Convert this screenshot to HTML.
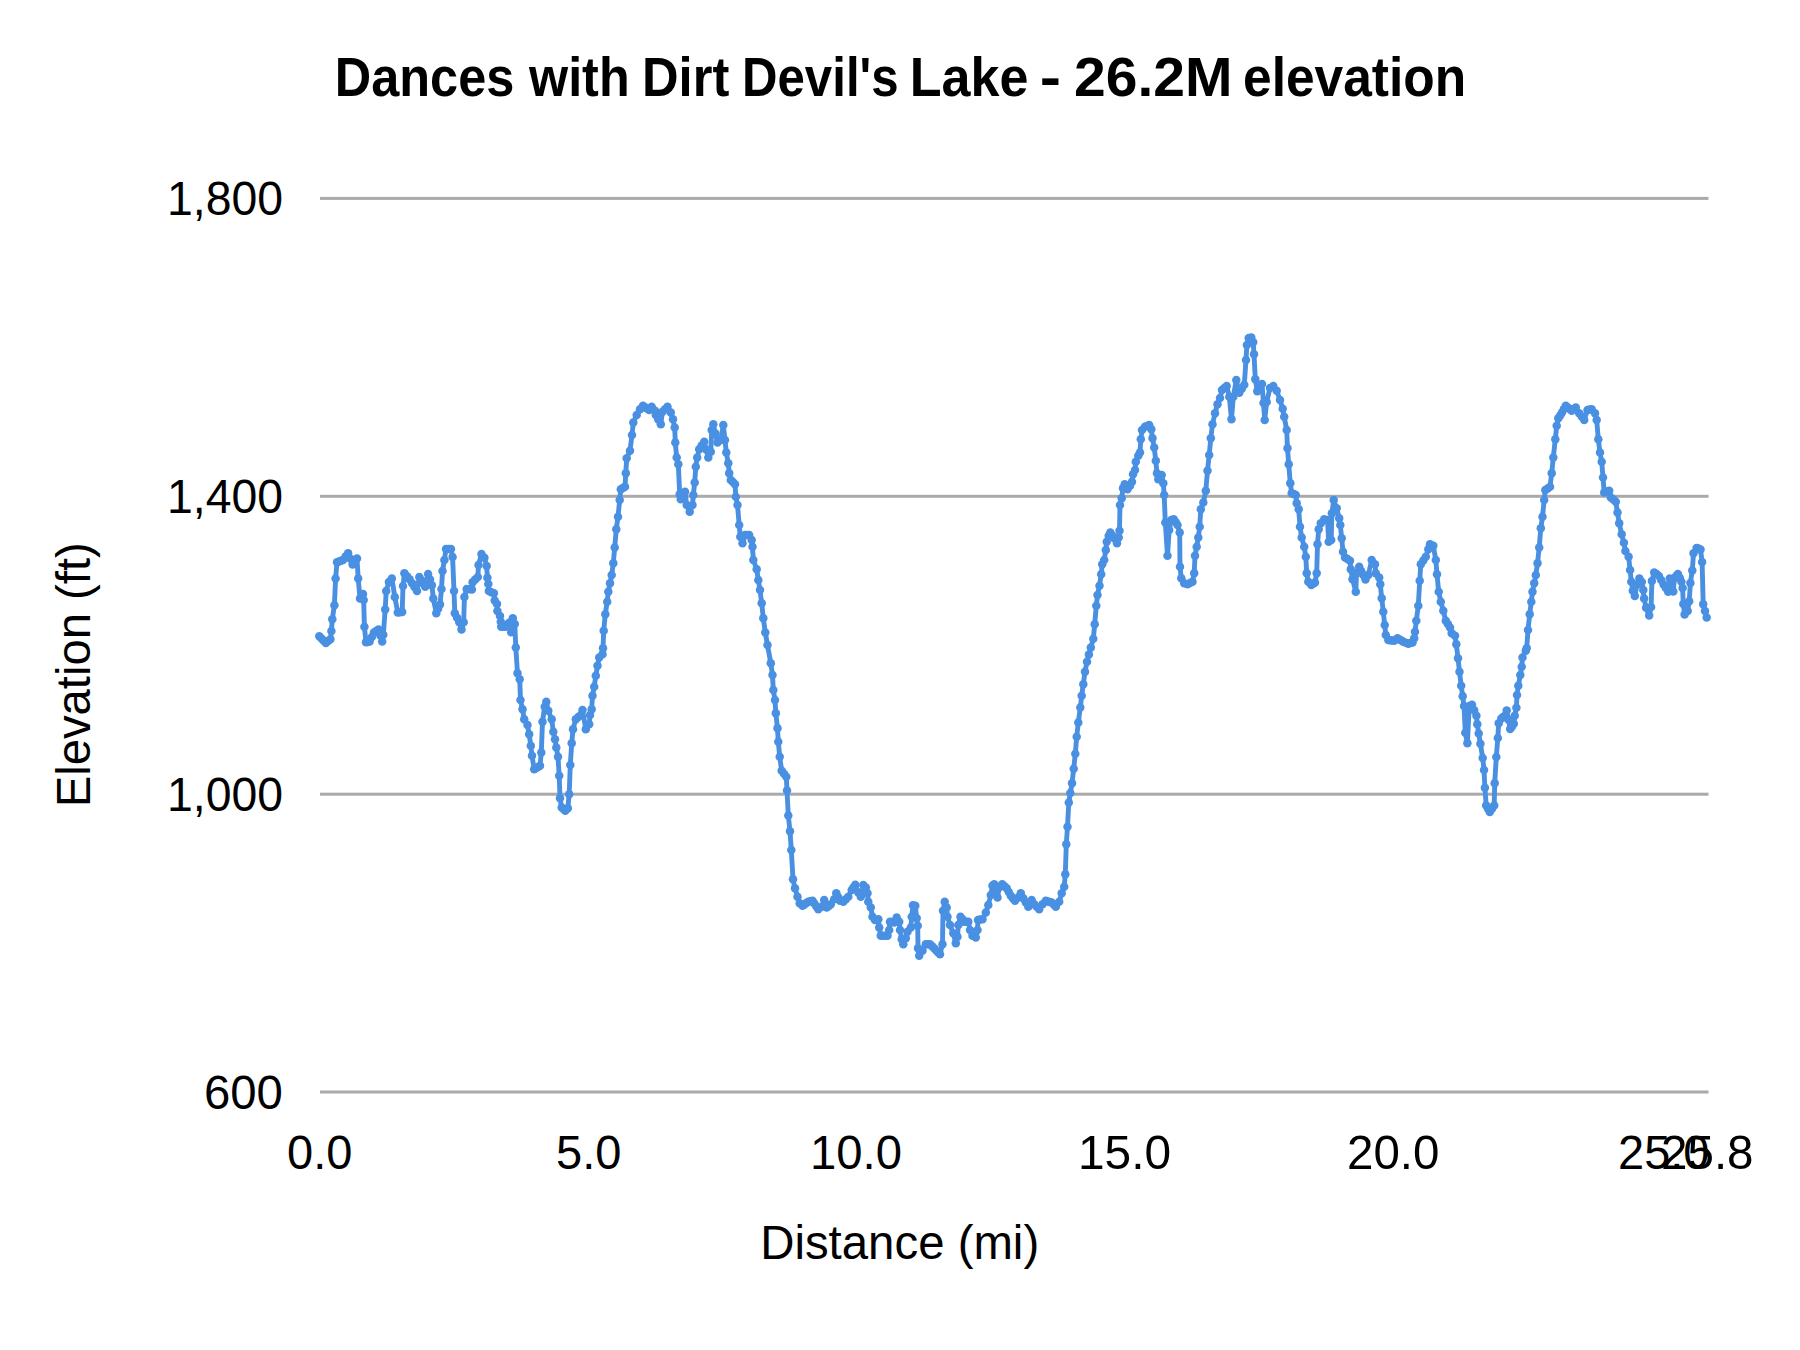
<!DOCTYPE html>
<html lang="en"><head><meta charset="utf-8"><title>Dances with Dirt Devil's Lake - 26.2M elevation</title>
<style>
html,body{margin:0;padding:0;background:#fff;}
body{width:1800px;height:1350px;overflow:hidden;}
svg{display:block;}
</style></head><body>
<svg width="1800" height="1350" viewBox="0 0 1800 1350">
<rect width="1800" height="1350" fill="#fff"/>
<text y="96" font-size="55.5" font-weight="bold" font-family="'Liberation Sans', sans-serif" fill="#000"><tspan x="334.8" textLength="179.5" lengthAdjust="spacingAndGlyphs">Dances</tspan> <tspan x="529.0" textLength="100.63" lengthAdjust="spacingAndGlyphs">with</tspan> <tspan x="642.0" textLength="87.33" lengthAdjust="spacingAndGlyphs">Dirt</tspan> <tspan x="742.0" textLength="156.6" lengthAdjust="spacingAndGlyphs">Devil's</tspan> <tspan x="909.8" textLength="118.71" lengthAdjust="spacingAndGlyphs">Lake</tspan> <tspan x="1039.8" textLength="21.24" lengthAdjust="spacingAndGlyphs">-</tspan> <tspan x="1074.0" textLength="158.53" lengthAdjust="spacingAndGlyphs">26.2M</tspan> <tspan x="1243.0" textLength="223.24" lengthAdjust="spacingAndGlyphs">elevation</tspan></text>
<rect x="320" y="196.9" width="1388.5" height="3" fill="#aaaaaa"/><rect x="320" y="494.8" width="1388.5" height="3" fill="#aaaaaa"/><rect x="320" y="792.7" width="1388.5" height="3" fill="#aaaaaa"/><rect x="320" y="1090.5" width="1388.5" height="3" fill="#aaaaaa"/>
<text x="167.0" y="215.0" font-size="48.5" font-family="'Liberation Sans', sans-serif" fill="#000" textLength="116.03" lengthAdjust="spacingAndGlyphs">1,800</text><text x="167.0" y="512.9" font-size="48.5" font-family="'Liberation Sans', sans-serif" fill="#000" textLength="116.03" lengthAdjust="spacingAndGlyphs">1,400</text><text x="167.0" y="810.8" font-size="48.5" font-family="'Liberation Sans', sans-serif" fill="#000" textLength="116.03" lengthAdjust="spacingAndGlyphs">1,000</text><text x="204.0" y="1108.6" font-size="48.5" font-family="'Liberation Sans', sans-serif" fill="#000" textLength="78.92" lengthAdjust="spacingAndGlyphs">600</text>
<text x="287.0" y="1168.9" font-size="48.5" font-family="'Liberation Sans', sans-serif" fill="#000" textLength="65.37" lengthAdjust="spacingAndGlyphs">0.0</text><text x="556.0" y="1168.9" font-size="48.5" font-family="'Liberation Sans', sans-serif" fill="#000" textLength="65.44" lengthAdjust="spacingAndGlyphs">5.0</text><text x="810.0" y="1168.9" font-size="48.5" font-family="'Liberation Sans', sans-serif" fill="#000" textLength="92.04" lengthAdjust="spacingAndGlyphs">10.0</text><text x="1078.0" y="1168.9" font-size="48.5" font-family="'Liberation Sans', sans-serif" fill="#000" textLength="93.09" lengthAdjust="spacingAndGlyphs">15.0</text><text x="1347.0" y="1168.9" font-size="48.5" font-family="'Liberation Sans', sans-serif" fill="#000" textLength="92.5" lengthAdjust="spacingAndGlyphs">20.0</text><text x="1618.0" y="1168.9" font-size="48.5" font-family="'Liberation Sans', sans-serif" fill="#000" textLength="91.45" lengthAdjust="spacingAndGlyphs">25.0</text><text x="1661.0" y="1168.9" font-size="48.5" font-family="'Liberation Sans', sans-serif" fill="#000" textLength="92.55" lengthAdjust="spacingAndGlyphs">25.8</text>
<text x="760.2" y="1258.9" font-size="48.5" font-family="'Liberation Sans', sans-serif" fill="#000" textLength="278.99" lengthAdjust="spacingAndGlyphs">Distance (mi)</text>
<text transform="translate(90 807.30) rotate(-90)" x="0" y="0" font-size="48.5" font-family="'Liberation Sans', sans-serif" fill="#000" textLength="265.03" lengthAdjust="spacingAndGlyphs">Elevation (ft)</text>
<path d="M319.3 636.3 L325.9 643.0 L330.4 639.3 L331.4 631.0 L332.3 619.3 L334.4 605.2 L335.6 578.5 L337.0 562.2 L343.0 560.0 L348.1 553.3 L352.6 564.4 L357.0 558.5 L358.2 578.5 L360.0 598.5 L363.0 594.0 L363.7 600.0 L364.4 626.7 L366.0 642.2 L369.6 641.5 L374.0 632.6 L378.5 629.6 L382.2 641.5 L383.3 634.8 L385.2 609.6 L386.2 591.0 L388.9 582.0 L391.9 578.5 L394.8 597.0 L397.8 612.6 L402.2 611.9 L403.0 586.0 L404.4 573.3 L409.6 579.3 L417.0 591.0 L419.3 577.0 L425.2 586.7 L428.1 574.0 L431.9 585.2 L433.3 598.5 L436.3 613.3 L440.0 604.4 L441.5 589.0 L442.5 571.0 L444.4 560.0 L446.0 549.0 L451.0 549.0 L452.6 557.0 L454.0 591.0 L454.8 613.3 L459.3 622.2 L461.5 629.6 L463.7 622.2 L464.4 597.0 L466.7 589.0 L471.9 589.6 L472.6 582.2 L477.8 577.0 L478.5 565.0 L481.5 554.0 L484.4 557.8 L486.7 566.0 L487.4 577.8 L488.3 583.9 L488.9 591.1 L493.9 593.3 L494.7 600.6 L497.0 603.9 L497.4 611.1 L500.0 616.1 L500.8 621.7 L501.2 626.7 L505.6 626.7 L509.2 622.8 L511.2 632.2 L512.8 618.3 L514.8 624.0 L515.8 647.5 L517.5 673.3 L519.7 679.2 L520.5 700.0 L522.5 709.2 L524.2 719.2 L527.5 725.0 L529.2 734.2 L530.8 745.8 L532.0 755.8 L534.2 769.2 L540.0 765.8 L541.3 752.5 L542.5 721.7 L544.7 706.7 L546.3 701.7 L548.3 710.8 L551.7 719.2 L553.3 731.7 L555.0 739.2 L556.3 747.5 L558.0 756.7 L559.2 775.8 L560.0 798.3 L561.7 807.5 L565.3 810.8 L567.8 808.3 L569.2 794.2 L570.3 765.0 L571.7 743.3 L573.0 729.2 L575.8 719.2 L580.8 715.0 L582.5 710.0 L585.8 729.2 L589.2 724.2 L590.0 715.0 L591.7 709.2 L592.5 695.8 L594.2 686.7 L595.8 675.8 L597.5 665.8 L599.2 657.5 L602.5 654.2 L603.0 648.3 L603.7 630.8 L605.3 614.2 L607.2 601.7 L608.3 591.7 L610.0 583.3 L611.7 575.0 L613.3 563.3 L614.7 547.5 L616.3 529.2 L618.0 516.7 L619.7 500.0 L620.8 489.2 L625.0 486.7 L625.8 473.3 L626.7 458.3 L630.0 450.8 L632.0 435.0 L633.3 422.5 L636.7 415.0 L640.0 409.2 L643.0 405.8 L649.2 410.0 L651.7 406.7 L655.0 410.8 L655.8 415.0 L660.8 424.2 L662.5 411.7 L667.5 406.7 L670.8 412.5 L673.0 419.2 L674.7 427.5 L675.3 442.5 L676.7 457.5 L678.3 464.2 L679.7 494.2 L680.8 499.2 L685.0 491.7 L686.7 505.0 L689.7 511.7 L692.5 505.0 L693.3 495.0 L694.7 482.5 L695.8 466.7 L697.2 457.5 L699.2 449.2 L704.2 441.7 L708.3 457.5 L710.8 451.7 L711.7 430.0 L713.3 424.2 L717.5 442.5 L720.8 440.0 L723.3 425.0 L725.0 440.0 L726.3 452.5 L728.3 463.3 L729.2 473.3 L730.8 480.0 L735.0 484.2 L735.8 496.7 L737.5 505.0 L739.2 525.0 L740.3 536.7 L742.5 543.3 L745.0 535.0 L749.2 535.0 L751.7 540.0 L752.5 546.7 L753.3 560.0 L756.7 569.2 L758.3 580.0 L760.0 590.0 L761.7 603.3 L763.3 618.3 L765.3 632.5 L767.5 645.0 L770.8 663.3 L772.5 675.0 L773.3 690.0 L775.0 700.0 L775.8 713.3 L777.5 728.3 L778.3 741.7 L779.7 756.7 L781.7 770.8 L786.3 776.7 L787.0 790.5 L788.3 815.5 L790.0 831.3 L791.3 850.0 L793.0 879.2 L795.0 888.3 L797.5 896.7 L799.7 903.3 L802.5 905.8 L808.3 901.7 L812.5 900.8 L818.3 909.2 L821.7 906.7 L824.2 900.0 L826.7 907.5 L830.8 904.2 L834.2 899.2 L836.3 893.3 L840.0 900.8 L843.3 901.7 L848.3 896.7 L851.7 890.0 L855.3 884.7 L858.3 892.5 L860.8 896.7 L863.3 885.0 L865.8 887.5 L867.5 893.3 L868.3 901.7 L870.8 907.5 L872.5 916.7 L875.0 920.0 L878.3 919.2 L879.2 927.5 L880.8 935.8 L887.5 935.8 L889.2 930.0 L890.0 921.7 L894.2 922.5 L896.7 917.5 L899.2 921.7 L900.0 930.0 L901.7 939.2 L903.3 944.2 L905.8 938.3 L907.5 931.7 L910.8 927.5 L911.7 916.7 L913.0 905.3 L915.3 905.8 L916.7 918.3 L917.7 925.8 L918.0 948.3 L919.2 955.8 L922.5 950.8 L925.8 944.2 L930.0 944.2 L934.2 948.3 L940.0 954.2 L942.5 944.2 L943.0 910.8 L944.7 901.7 L946.7 907.5 L947.5 916.7 L950.0 925.0 L953.3 933.3 L955.8 943.3 L957.5 936.7 L958.3 925.0 L960.5 916.7 L964.2 921.7 L968.3 921.7 L970.0 930.0 L972.5 935.8 L975.8 937.5 L977.5 930.0 L978.0 920.0 L982.5 919.2 L985.8 912.5 L988.3 905.0 L990.8 895.0 L992.5 885.8 L994.2 884.2 L997.5 897.5 L999.2 887.5 L1002.2 884.2 L1006.7 888.3 L1010.8 895.8 L1015.0 900.8 L1018.3 897.5 L1020.8 893.3 L1023.3 898.3 L1028.3 906.7 L1031.7 900.0 L1034.2 904.2 L1039.2 909.2 L1042.5 904.2 L1045.8 900.8 L1051.7 902.5 L1055.8 906.7 L1059.2 901.7 L1061.7 893.3 L1064.2 886.7 L1065.3 874.2 L1066.3 844.2 L1067.5 826.7 L1068.8 802.5 L1070.3 793.0 L1072.0 783.3 L1073.7 768.7 L1075.3 753.7 L1076.7 736.7 L1078.3 722.5 L1080.3 707.5 L1081.7 695.8 L1083.3 684.2 L1085.0 671.7 L1087.0 661.7 L1090.8 647.5 L1093.3 638.7 L1094.7 624.2 L1096.3 605.8 L1097.5 595.0 L1099.5 585.8 L1101.2 574.2 L1102.2 564.2 L1104.2 560.0 L1105.8 550.0 L1106.7 541.7 L1108.7 535.8 L1110.3 532.5 L1114.2 538.3 L1117.0 543.3 L1118.7 537.5 L1119.5 530.8 L1120.0 505.0 L1121.7 498.3 L1123.0 488.3 L1124.7 484.2 L1127.5 489.2 L1130.0 485.8 L1132.0 481.7 L1133.0 474.2 L1135.0 470.0 L1135.8 461.7 L1138.3 455.8 L1140.0 452.5 L1140.8 439.2 L1142.0 430.0 L1145.0 426.7 L1149.2 425.0 L1151.3 429.2 L1152.5 438.3 L1154.2 447.5 L1155.8 460.8 L1157.0 473.3 L1158.3 479.2 L1161.7 475.0 L1163.3 483.3 L1164.2 495.0 L1165.3 522.5 L1167.5 555.8 L1169.2 530.0 L1171.3 520.0 L1173.7 519.2 L1177.5 525.0 L1179.7 532.5 L1180.0 566.7 L1181.3 578.3 L1184.2 583.3 L1187.5 584.2 L1192.5 581.7 L1194.2 573.3 L1195.0 555.8 L1196.7 546.7 L1198.3 537.5 L1199.7 526.7 L1200.8 509.2 L1203.3 502.5 L1205.8 490.8 L1207.5 470.8 L1209.2 455.0 L1210.8 438.3 L1212.5 424.2 L1215.0 413.3 L1217.5 404.2 L1220.0 398.0 L1222.0 390.0 L1226.7 386.0 L1229.3 396.7 L1231.5 419.2 L1233.3 396.7 L1236.3 380.0 L1239.3 392.7 L1244.3 384.7 L1246.0 360.0 L1246.9 345.0 L1248.7 338.0 L1251.3 337.6 L1253.2 342.3 L1254.0 354.3 L1255.3 379.3 L1257.3 391.3 L1262.0 384.0 L1263.5 403.0 L1264.7 420.0 L1266.7 402.0 L1270.0 388.0 L1273.3 386.0 L1276.7 390.7 L1280.0 400.0 L1282.7 408.7 L1284.2 416.7 L1286.7 430.0 L1287.5 448.3 L1288.7 464.2 L1290.3 483.3 L1291.7 493.3 L1295.8 495.0 L1296.7 503.3 L1298.7 509.2 L1300.0 526.7 L1301.7 537.5 L1304.2 546.7 L1305.8 556.7 L1306.7 573.3 L1308.3 581.7 L1311.3 585.0 L1315.0 582.5 L1316.7 573.3 L1317.5 544.2 L1318.7 529.2 L1320.8 523.3 L1324.2 519.2 L1327.5 520.0 L1328.7 541.7 L1331.2 540.0 L1331.9 513.3 L1333.7 500.0 L1336.7 508.3 L1339.2 518.3 L1340.3 525.0 L1341.7 538.3 L1343.0 551.7 L1345.0 557.5 L1350.0 560.8 L1350.8 569.2 L1352.5 579.2 L1355.8 591.7 L1356.5 573.3 L1359.2 566.7 L1363.3 575.0 L1365.5 579.6 L1368.3 575.0 L1371.7 560.0 L1375.0 564.2 L1375.8 573.3 L1379.2 577.5 L1380.3 584.2 L1381.7 598.3 L1383.3 611.7 L1384.7 625.0 L1385.8 635.0 L1388.3 640.0 L1394.2 640.8 L1397.5 638.3 L1403.3 641.7 L1408.3 643.7 L1412.5 642.5 L1414.2 638.3 L1415.0 631.7 L1416.3 620.8 L1418.3 605.8 L1419.7 580.8 L1420.8 564.2 L1425.8 556.7 L1428.3 549.2 L1430.0 544.2 L1433.3 545.8 L1435.8 560.0 L1437.0 574.2 L1438.7 591.7 L1440.8 601.7 L1443.3 610.8 L1445.8 620.8 L1450.0 627.5 L1451.7 633.3 L1455.0 635.8 L1456.3 644.2 L1458.0 658.3 L1459.5 671.7 L1461.2 685.8 L1462.7 696.2 L1464.0 706.0 L1465.3 732.7 L1467.4 743.3 L1469.3 706.0 L1472.0 704.7 L1476.4 715.8 L1477.3 724.2 L1478.7 733.6 L1480.4 743.8 L1482.7 758.0 L1484.0 770.0 L1484.9 787.8 L1486.2 805.6 L1489.8 812.0 L1494.2 805.6 L1494.7 783.3 L1496.3 757.1 L1497.8 738.0 L1498.7 723.3 L1501.3 718.4 L1504.9 715.8 L1506.7 710.4 L1510.2 729.1 L1513.8 723.8 L1514.7 715.8 L1516.4 707.8 L1517.0 695.0 L1518.3 685.8 L1520.3 675.0 L1521.7 666.7 L1522.5 657.5 L1525.8 650.8 L1526.7 648.3 L1528.0 630.0 L1529.7 614.2 L1531.3 601.7 L1532.5 591.7 L1534.2 583.3 L1535.8 575.0 L1537.5 563.3 L1539.2 547.5 L1540.8 528.3 L1542.5 516.7 L1544.2 500.0 L1545.3 490.0 L1550.0 486.7 L1551.7 473.3 L1553.3 457.5 L1555.3 439.2 L1556.7 425.8 L1558.3 418.3 L1562.0 412.5 L1565.8 405.8 L1571.7 410.8 L1575.8 407.5 L1579.2 413.3 L1584.2 420.0 L1587.5 410.0 L1591.7 409.2 L1595.0 413.3 L1596.7 420.0 L1598.3 439.2 L1600.0 452.5 L1601.7 461.7 L1603.0 477.5 L1604.2 492.5 L1609.2 490.8 L1610.8 497.5 L1615.8 501.7 L1617.5 512.5 L1619.2 523.3 L1621.7 534.2 L1623.9 542.8 L1625.4 551.0 L1628.6 556.8 L1630.1 570.1 L1631.3 581.7 L1632.8 590.7 L1634.8 596.1 L1637.1 584.4 L1639.4 578.6 L1641.8 582.1 L1643.3 589.9 L1644.1 598.4 L1646.1 607.8 L1649.2 615.6 L1651.1 607.0 L1651.9 580.9 L1654.2 572.4 L1658.9 575.9 L1663.6 584.4 L1668.2 591.8 L1669.8 578.6 L1673.3 591.4 L1674.4 578.2 L1677.9 573.9 L1681.4 581.7 L1682.6 587.9 L1683.3 603.9 L1684.6 614.4 L1687.7 610.9 L1689.2 601.2 L1690.4 582.9 L1692.3 570.4 L1693.5 553.3 L1696.6 547.9 L1700.5 549.4 L1702.1 561.9 L1703.2 604.3 L1706.7 617.5" fill="none" stroke="#4a90e2" stroke-width="4.9" stroke-linejoin="round" stroke-linecap="round"/>
<g fill="#4a90e2"><circle cx="319.3" cy="636.3" r="4.25"/><circle cx="321.5" cy="638.5" r="4.25"/><circle cx="323.7" cy="640.8" r="4.25"/><circle cx="325.9" cy="643.0" r="4.25"/><circle cx="328.1" cy="641.1" r="4.25"/><circle cx="330.4" cy="639.3" r="4.25"/><circle cx="331.4" cy="631.0" r="4.25"/><circle cx="332.3" cy="619.3" r="4.25"/><circle cx="334.4" cy="605.2" r="4.25"/><circle cx="335.6" cy="578.5" r="4.25"/><circle cx="337.0" cy="562.2" r="4.25"/><circle cx="339.0" cy="561.5" r="4.25"/><circle cx="341.0" cy="560.7" r="4.25"/><circle cx="343.0" cy="560.0" r="4.25"/><circle cx="345.6" cy="556.6" r="4.25"/><circle cx="348.1" cy="553.3" r="4.25"/><circle cx="350.4" cy="558.8" r="4.25"/><circle cx="352.6" cy="564.4" r="4.25"/><circle cx="354.8" cy="561.5" r="4.25"/><circle cx="357.0" cy="558.5" r="4.25"/><circle cx="358.2" cy="578.5" r="4.25"/><circle cx="360.0" cy="598.5" r="4.25"/><circle cx="363.0" cy="594.0" r="4.25"/><circle cx="363.7" cy="600.0" r="4.25"/><circle cx="364.4" cy="626.7" r="4.25"/><circle cx="366.0" cy="642.2" r="4.25"/><circle cx="367.8" cy="641.9" r="4.25"/><circle cx="369.6" cy="641.5" r="4.25"/><circle cx="371.8" cy="637.0" r="4.25"/><circle cx="374.0" cy="632.6" r="4.25"/><circle cx="376.2" cy="631.1" r="4.25"/><circle cx="378.5" cy="629.6" r="4.25"/><circle cx="380.4" cy="635.5" r="4.25"/><circle cx="382.2" cy="641.5" r="4.25"/><circle cx="383.3" cy="634.8" r="4.25"/><circle cx="385.2" cy="609.6" r="4.25"/><circle cx="386.2" cy="591.0" r="4.25"/><circle cx="388.9" cy="582.0" r="4.25"/><circle cx="391.9" cy="578.5" r="4.25"/><circle cx="394.8" cy="597.0" r="4.25"/><circle cx="397.8" cy="612.6" r="4.25"/><circle cx="400.0" cy="612.2" r="4.25"/><circle cx="402.2" cy="611.9" r="4.25"/><circle cx="403.0" cy="586.0" r="4.25"/><circle cx="404.4" cy="573.3" r="4.25"/><circle cx="407.0" cy="576.3" r="4.25"/><circle cx="409.6" cy="579.3" r="4.25"/><circle cx="412.1" cy="583.2" r="4.25"/><circle cx="414.5" cy="587.1" r="4.25"/><circle cx="417.0" cy="591.0" r="4.25"/><circle cx="419.3" cy="577.0" r="4.25"/><circle cx="421.3" cy="580.2" r="4.25"/><circle cx="423.2" cy="583.5" r="4.25"/><circle cx="425.2" cy="586.7" r="4.25"/><circle cx="428.1" cy="574.0" r="4.25"/><circle cx="430.0" cy="579.6" r="4.25"/><circle cx="431.9" cy="585.2" r="4.25"/><circle cx="433.3" cy="598.5" r="4.25"/><circle cx="436.3" cy="613.3" r="4.25"/><circle cx="438.1" cy="608.8" r="4.25"/><circle cx="440.0" cy="604.4" r="4.25"/><circle cx="441.5" cy="589.0" r="4.25"/><circle cx="442.5" cy="571.0" r="4.25"/><circle cx="444.4" cy="560.0" r="4.25"/><circle cx="446.0" cy="549.0" r="4.25"/><circle cx="448.5" cy="549.0" r="4.25"/><circle cx="451.0" cy="549.0" r="4.25"/><circle cx="452.6" cy="557.0" r="4.25"/><circle cx="454.0" cy="591.0" r="4.25"/><circle cx="454.8" cy="613.3" r="4.25"/><circle cx="457.1" cy="617.8" r="4.25"/><circle cx="459.3" cy="622.2" r="4.25"/><circle cx="461.5" cy="629.6" r="4.25"/><circle cx="463.7" cy="622.2" r="4.25"/><circle cx="464.4" cy="597.0" r="4.25"/><circle cx="466.7" cy="589.0" r="4.25"/><circle cx="469.3" cy="589.3" r="4.25"/><circle cx="471.9" cy="589.6" r="4.25"/><circle cx="472.6" cy="582.2" r="4.25"/><circle cx="475.2" cy="579.6" r="4.25"/><circle cx="477.8" cy="577.0" r="4.25"/><circle cx="478.5" cy="565.0" r="4.25"/><circle cx="481.5" cy="554.0" r="4.25"/><circle cx="484.4" cy="557.8" r="4.25"/><circle cx="486.7" cy="566.0" r="4.25"/><circle cx="487.4" cy="577.8" r="4.25"/><circle cx="488.3" cy="583.9" r="4.25"/><circle cx="488.9" cy="591.1" r="4.25"/><circle cx="491.4" cy="592.2" r="4.25"/><circle cx="493.9" cy="593.3" r="4.25"/><circle cx="494.7" cy="600.6" r="4.25"/><circle cx="497.0" cy="603.9" r="4.25"/><circle cx="497.4" cy="611.1" r="4.25"/><circle cx="500.0" cy="616.1" r="4.25"/><circle cx="500.8" cy="621.7" r="4.25"/><circle cx="501.2" cy="626.7" r="4.25"/><circle cx="503.4" cy="626.7" r="4.25"/><circle cx="505.6" cy="626.7" r="4.25"/><circle cx="507.4" cy="624.8" r="4.25"/><circle cx="509.2" cy="622.8" r="4.25"/><circle cx="511.2" cy="632.2" r="4.25"/><circle cx="512.8" cy="618.3" r="4.25"/><circle cx="514.8" cy="624.0" r="4.25"/><circle cx="515.8" cy="647.5" r="4.25"/><circle cx="517.5" cy="673.3" r="4.25"/><circle cx="519.7" cy="679.2" r="4.25"/><circle cx="520.5" cy="700.0" r="4.25"/><circle cx="522.5" cy="709.2" r="4.25"/><circle cx="524.2" cy="719.2" r="4.25"/><circle cx="527.5" cy="725.0" r="4.25"/><circle cx="529.2" cy="734.2" r="4.25"/><circle cx="530.8" cy="745.8" r="4.25"/><circle cx="532.0" cy="755.8" r="4.25"/><circle cx="534.2" cy="769.2" r="4.25"/><circle cx="536.1" cy="768.1" r="4.25"/><circle cx="538.1" cy="766.9" r="4.25"/><circle cx="540.0" cy="765.8" r="4.25"/><circle cx="541.3" cy="752.5" r="4.25"/><circle cx="542.5" cy="721.7" r="4.25"/><circle cx="544.7" cy="706.7" r="4.25"/><circle cx="546.3" cy="701.7" r="4.25"/><circle cx="548.3" cy="710.8" r="4.25"/><circle cx="551.7" cy="719.2" r="4.25"/><circle cx="553.3" cy="731.7" r="4.25"/><circle cx="555.0" cy="739.2" r="4.25"/><circle cx="556.3" cy="747.5" r="4.25"/><circle cx="558.0" cy="756.7" r="4.25"/><circle cx="559.2" cy="775.8" r="4.25"/><circle cx="560.0" cy="798.3" r="4.25"/><circle cx="561.7" cy="807.5" r="4.25"/><circle cx="563.5" cy="809.1" r="4.25"/><circle cx="565.3" cy="810.8" r="4.25"/><circle cx="567.8" cy="808.3" r="4.25"/><circle cx="569.2" cy="794.2" r="4.25"/><circle cx="570.3" cy="765.0" r="4.25"/><circle cx="571.7" cy="743.3" r="4.25"/><circle cx="573.0" cy="729.2" r="4.25"/><circle cx="575.8" cy="719.2" r="4.25"/><circle cx="578.3" cy="717.1" r="4.25"/><circle cx="580.8" cy="715.0" r="4.25"/><circle cx="582.5" cy="710.0" r="4.25"/><circle cx="585.8" cy="729.2" r="4.25"/><circle cx="589.2" cy="724.2" r="4.25"/><circle cx="590.0" cy="715.0" r="4.25"/><circle cx="591.7" cy="709.2" r="4.25"/><circle cx="592.5" cy="695.8" r="4.25"/><circle cx="594.2" cy="686.7" r="4.25"/><circle cx="595.8" cy="675.8" r="4.25"/><circle cx="597.5" cy="665.8" r="4.25"/><circle cx="599.2" cy="657.5" r="4.25"/><circle cx="602.5" cy="654.2" r="4.25"/><circle cx="603.0" cy="648.3" r="4.25"/><circle cx="603.7" cy="630.8" r="4.25"/><circle cx="605.3" cy="614.2" r="4.25"/><circle cx="607.2" cy="601.7" r="4.25"/><circle cx="608.3" cy="591.7" r="4.25"/><circle cx="610.0" cy="583.3" r="4.25"/><circle cx="611.7" cy="575.0" r="4.25"/><circle cx="613.3" cy="563.3" r="4.25"/><circle cx="614.7" cy="547.5" r="4.25"/><circle cx="616.3" cy="529.2" r="4.25"/><circle cx="618.0" cy="516.7" r="4.25"/><circle cx="619.7" cy="500.0" r="4.25"/><circle cx="620.8" cy="489.2" r="4.25"/><circle cx="622.9" cy="487.9" r="4.25"/><circle cx="625.0" cy="486.7" r="4.25"/><circle cx="625.8" cy="473.3" r="4.25"/><circle cx="626.7" cy="458.3" r="4.25"/><circle cx="630.0" cy="450.8" r="4.25"/><circle cx="632.0" cy="435.0" r="4.25"/><circle cx="633.3" cy="422.5" r="4.25"/><circle cx="636.7" cy="415.0" r="4.25"/><circle cx="640.0" cy="409.2" r="4.25"/><circle cx="643.0" cy="405.8" r="4.25"/><circle cx="645.1" cy="407.2" r="4.25"/><circle cx="647.1" cy="408.6" r="4.25"/><circle cx="649.2" cy="410.0" r="4.25"/><circle cx="651.7" cy="406.7" r="4.25"/><circle cx="655.0" cy="410.8" r="4.25"/><circle cx="655.8" cy="415.0" r="4.25"/><circle cx="658.3" cy="419.6" r="4.25"/><circle cx="660.8" cy="424.2" r="4.25"/><circle cx="662.5" cy="411.7" r="4.25"/><circle cx="665.0" cy="409.2" r="4.25"/><circle cx="667.5" cy="406.7" r="4.25"/><circle cx="670.8" cy="412.5" r="4.25"/><circle cx="673.0" cy="419.2" r="4.25"/><circle cx="674.7" cy="427.5" r="4.25"/><circle cx="675.3" cy="442.5" r="4.25"/><circle cx="676.7" cy="457.5" r="4.25"/><circle cx="678.3" cy="464.2" r="4.25"/><circle cx="679.7" cy="494.2" r="4.25"/><circle cx="680.8" cy="499.2" r="4.25"/><circle cx="682.9" cy="495.4" r="4.25"/><circle cx="685.0" cy="491.7" r="4.25"/><circle cx="686.7" cy="505.0" r="4.25"/><circle cx="689.7" cy="511.7" r="4.25"/><circle cx="692.5" cy="505.0" r="4.25"/><circle cx="693.3" cy="495.0" r="4.25"/><circle cx="694.7" cy="482.5" r="4.25"/><circle cx="695.8" cy="466.7" r="4.25"/><circle cx="697.2" cy="457.5" r="4.25"/><circle cx="699.2" cy="449.2" r="4.25"/><circle cx="701.7" cy="445.4" r="4.25"/><circle cx="704.2" cy="441.7" r="4.25"/><circle cx="706.2" cy="449.6" r="4.25"/><circle cx="708.3" cy="457.5" r="4.25"/><circle cx="710.8" cy="451.7" r="4.25"/><circle cx="711.7" cy="430.0" r="4.25"/><circle cx="713.3" cy="424.2" r="4.25"/><circle cx="715.4" cy="433.4" r="4.25"/><circle cx="717.5" cy="442.5" r="4.25"/><circle cx="720.8" cy="440.0" r="4.25"/><circle cx="723.3" cy="425.0" r="4.25"/><circle cx="725.0" cy="440.0" r="4.25"/><circle cx="726.3" cy="452.5" r="4.25"/><circle cx="728.3" cy="463.3" r="4.25"/><circle cx="729.2" cy="473.3" r="4.25"/><circle cx="730.8" cy="480.0" r="4.25"/><circle cx="732.9" cy="482.1" r="4.25"/><circle cx="735.0" cy="484.2" r="4.25"/><circle cx="735.8" cy="496.7" r="4.25"/><circle cx="737.5" cy="505.0" r="4.25"/><circle cx="739.2" cy="525.0" r="4.25"/><circle cx="740.3" cy="536.7" r="4.25"/><circle cx="742.5" cy="543.3" r="4.25"/><circle cx="745.0" cy="535.0" r="4.25"/><circle cx="747.1" cy="535.0" r="4.25"/><circle cx="749.2" cy="535.0" r="4.25"/><circle cx="751.7" cy="540.0" r="4.25"/><circle cx="752.5" cy="546.7" r="4.25"/><circle cx="753.3" cy="560.0" r="4.25"/><circle cx="756.7" cy="569.2" r="4.25"/><circle cx="758.3" cy="580.0" r="4.25"/><circle cx="760.0" cy="590.0" r="4.25"/><circle cx="761.7" cy="603.3" r="4.25"/><circle cx="763.3" cy="618.3" r="4.25"/><circle cx="765.3" cy="632.5" r="4.25"/><circle cx="767.5" cy="645.0" r="4.25"/><circle cx="770.8" cy="663.3" r="4.25"/><circle cx="772.5" cy="675.0" r="4.25"/><circle cx="773.3" cy="690.0" r="4.25"/><circle cx="775.0" cy="700.0" r="4.25"/><circle cx="775.8" cy="713.3" r="4.25"/><circle cx="777.5" cy="728.3" r="4.25"/><circle cx="778.3" cy="741.7" r="4.25"/><circle cx="779.7" cy="756.7" r="4.25"/><circle cx="781.7" cy="770.8" r="4.25"/><circle cx="784.0" cy="773.8" r="4.25"/><circle cx="786.3" cy="776.7" r="4.25"/><circle cx="787.0" cy="790.5" r="4.25"/><circle cx="788.3" cy="815.5" r="4.25"/><circle cx="790.0" cy="831.3" r="4.25"/><circle cx="791.3" cy="850.0" r="4.25"/><circle cx="793.0" cy="879.2" r="4.25"/><circle cx="795.0" cy="888.3" r="4.25"/><circle cx="797.5" cy="896.7" r="4.25"/><circle cx="799.7" cy="903.3" r="4.25"/><circle cx="802.5" cy="905.8" r="4.25"/><circle cx="804.4" cy="904.4" r="4.25"/><circle cx="806.4" cy="903.1" r="4.25"/><circle cx="808.3" cy="901.7" r="4.25"/><circle cx="810.4" cy="901.2" r="4.25"/><circle cx="812.5" cy="900.8" r="4.25"/><circle cx="814.4" cy="903.6" r="4.25"/><circle cx="816.4" cy="906.4" r="4.25"/><circle cx="818.3" cy="909.2" r="4.25"/><circle cx="821.7" cy="906.7" r="4.25"/><circle cx="824.2" cy="900.0" r="4.25"/><circle cx="826.7" cy="907.5" r="4.25"/><circle cx="828.8" cy="905.9" r="4.25"/><circle cx="830.8" cy="904.2" r="4.25"/><circle cx="834.2" cy="899.2" r="4.25"/><circle cx="836.3" cy="893.3" r="4.25"/><circle cx="838.1" cy="897.0" r="4.25"/><circle cx="840.0" cy="900.8" r="4.25"/><circle cx="843.3" cy="901.7" r="4.25"/><circle cx="845.8" cy="899.2" r="4.25"/><circle cx="848.3" cy="896.7" r="4.25"/><circle cx="851.7" cy="890.0" r="4.25"/><circle cx="853.5" cy="887.4" r="4.25"/><circle cx="855.3" cy="884.7" r="4.25"/><circle cx="858.3" cy="892.5" r="4.25"/><circle cx="860.8" cy="896.7" r="4.25"/><circle cx="863.3" cy="885.0" r="4.25"/><circle cx="865.8" cy="887.5" r="4.25"/><circle cx="867.5" cy="893.3" r="4.25"/><circle cx="868.3" cy="901.7" r="4.25"/><circle cx="870.8" cy="907.5" r="4.25"/><circle cx="872.5" cy="916.7" r="4.25"/><circle cx="875.0" cy="920.0" r="4.25"/><circle cx="878.3" cy="919.2" r="4.25"/><circle cx="879.2" cy="927.5" r="4.25"/><circle cx="880.8" cy="935.8" r="4.25"/><circle cx="883.0" cy="935.8" r="4.25"/><circle cx="885.3" cy="935.8" r="4.25"/><circle cx="887.5" cy="935.8" r="4.25"/><circle cx="889.2" cy="930.0" r="4.25"/><circle cx="890.0" cy="921.7" r="4.25"/><circle cx="892.1" cy="922.1" r="4.25"/><circle cx="894.2" cy="922.5" r="4.25"/><circle cx="896.7" cy="917.5" r="4.25"/><circle cx="899.2" cy="921.7" r="4.25"/><circle cx="900.0" cy="930.0" r="4.25"/><circle cx="901.7" cy="939.2" r="4.25"/><circle cx="903.3" cy="944.2" r="4.25"/><circle cx="905.8" cy="938.3" r="4.25"/><circle cx="907.5" cy="931.7" r="4.25"/><circle cx="910.8" cy="927.5" r="4.25"/><circle cx="911.7" cy="916.7" r="4.25"/><circle cx="913.0" cy="905.3" r="4.25"/><circle cx="915.3" cy="905.8" r="4.25"/><circle cx="916.7" cy="918.3" r="4.25"/><circle cx="917.7" cy="925.8" r="4.25"/><circle cx="918.0" cy="948.3" r="4.25"/><circle cx="919.2" cy="955.8" r="4.25"/><circle cx="922.5" cy="950.8" r="4.25"/><circle cx="925.8" cy="944.2" r="4.25"/><circle cx="927.9" cy="944.2" r="4.25"/><circle cx="930.0" cy="944.2" r="4.25"/><circle cx="932.1" cy="946.2" r="4.25"/><circle cx="934.2" cy="948.3" r="4.25"/><circle cx="936.1" cy="950.3" r="4.25"/><circle cx="938.1" cy="952.2" r="4.25"/><circle cx="940.0" cy="954.2" r="4.25"/><circle cx="942.5" cy="944.2" r="4.25"/><circle cx="943.0" cy="910.8" r="4.25"/><circle cx="944.7" cy="901.7" r="4.25"/><circle cx="946.7" cy="907.5" r="4.25"/><circle cx="947.5" cy="916.7" r="4.25"/><circle cx="950.0" cy="925.0" r="4.25"/><circle cx="953.3" cy="933.3" r="4.25"/><circle cx="955.8" cy="943.3" r="4.25"/><circle cx="957.5" cy="936.7" r="4.25"/><circle cx="958.3" cy="925.0" r="4.25"/><circle cx="960.5" cy="916.7" r="4.25"/><circle cx="962.4" cy="919.2" r="4.25"/><circle cx="964.2" cy="921.7" r="4.25"/><circle cx="966.2" cy="921.7" r="4.25"/><circle cx="968.3" cy="921.7" r="4.25"/><circle cx="970.0" cy="930.0" r="4.25"/><circle cx="972.5" cy="935.8" r="4.25"/><circle cx="975.8" cy="937.5" r="4.25"/><circle cx="977.5" cy="930.0" r="4.25"/><circle cx="978.0" cy="920.0" r="4.25"/><circle cx="980.2" cy="919.6" r="4.25"/><circle cx="982.5" cy="919.2" r="4.25"/><circle cx="985.8" cy="912.5" r="4.25"/><circle cx="988.3" cy="905.0" r="4.25"/><circle cx="990.8" cy="895.0" r="4.25"/><circle cx="992.5" cy="885.8" r="4.25"/><circle cx="994.2" cy="884.2" r="4.25"/><circle cx="997.5" cy="897.5" r="4.25"/><circle cx="999.2" cy="887.5" r="4.25"/><circle cx="1002.2" cy="884.2" r="4.25"/><circle cx="1004.5" cy="886.2" r="4.25"/><circle cx="1006.7" cy="888.3" r="4.25"/><circle cx="1008.8" cy="892.0" r="4.25"/><circle cx="1010.8" cy="895.8" r="4.25"/><circle cx="1012.9" cy="898.3" r="4.25"/><circle cx="1015.0" cy="900.8" r="4.25"/><circle cx="1018.3" cy="897.5" r="4.25"/><circle cx="1020.8" cy="893.3" r="4.25"/><circle cx="1023.3" cy="898.3" r="4.25"/><circle cx="1025.8" cy="902.5" r="4.25"/><circle cx="1028.3" cy="906.7" r="4.25"/><circle cx="1031.7" cy="900.0" r="4.25"/><circle cx="1034.2" cy="904.2" r="4.25"/><circle cx="1036.7" cy="906.7" r="4.25"/><circle cx="1039.2" cy="909.2" r="4.25"/><circle cx="1042.5" cy="904.2" r="4.25"/><circle cx="1045.8" cy="900.8" r="4.25"/><circle cx="1047.8" cy="901.4" r="4.25"/><circle cx="1049.7" cy="901.9" r="4.25"/><circle cx="1051.7" cy="902.5" r="4.25"/><circle cx="1053.8" cy="904.6" r="4.25"/><circle cx="1055.8" cy="906.7" r="4.25"/><circle cx="1059.2" cy="901.7" r="4.25"/><circle cx="1061.7" cy="893.3" r="4.25"/><circle cx="1064.2" cy="886.7" r="4.25"/><circle cx="1065.3" cy="874.2" r="4.25"/><circle cx="1066.3" cy="844.2" r="4.25"/><circle cx="1067.5" cy="826.7" r="4.25"/><circle cx="1068.8" cy="802.5" r="4.25"/><circle cx="1070.3" cy="793.0" r="4.25"/><circle cx="1072.0" cy="783.3" r="4.25"/><circle cx="1073.7" cy="768.7" r="4.25"/><circle cx="1075.3" cy="753.7" r="4.25"/><circle cx="1076.7" cy="736.7" r="4.25"/><circle cx="1078.3" cy="722.5" r="4.25"/><circle cx="1080.3" cy="707.5" r="4.25"/><circle cx="1081.7" cy="695.8" r="4.25"/><circle cx="1083.3" cy="684.2" r="4.25"/><circle cx="1085.0" cy="671.7" r="4.25"/><circle cx="1087.0" cy="661.7" r="4.25"/><circle cx="1088.9" cy="654.6" r="4.25"/><circle cx="1090.8" cy="647.5" r="4.25"/><circle cx="1093.3" cy="638.7" r="4.25"/><circle cx="1094.7" cy="624.2" r="4.25"/><circle cx="1096.3" cy="605.8" r="4.25"/><circle cx="1097.5" cy="595.0" r="4.25"/><circle cx="1099.5" cy="585.8" r="4.25"/><circle cx="1101.2" cy="574.2" r="4.25"/><circle cx="1102.2" cy="564.2" r="4.25"/><circle cx="1104.2" cy="560.0" r="4.25"/><circle cx="1105.8" cy="550.0" r="4.25"/><circle cx="1106.7" cy="541.7" r="4.25"/><circle cx="1108.7" cy="535.8" r="4.25"/><circle cx="1110.3" cy="532.5" r="4.25"/><circle cx="1112.2" cy="535.4" r="4.25"/><circle cx="1114.2" cy="538.3" r="4.25"/><circle cx="1117.0" cy="543.3" r="4.25"/><circle cx="1118.7" cy="537.5" r="4.25"/><circle cx="1119.5" cy="530.8" r="4.25"/><circle cx="1120.0" cy="505.0" r="4.25"/><circle cx="1121.7" cy="498.3" r="4.25"/><circle cx="1123.0" cy="488.3" r="4.25"/><circle cx="1124.7" cy="484.2" r="4.25"/><circle cx="1127.5" cy="489.2" r="4.25"/><circle cx="1130.0" cy="485.8" r="4.25"/><circle cx="1132.0" cy="481.7" r="4.25"/><circle cx="1133.0" cy="474.2" r="4.25"/><circle cx="1135.0" cy="470.0" r="4.25"/><circle cx="1135.8" cy="461.7" r="4.25"/><circle cx="1138.3" cy="455.8" r="4.25"/><circle cx="1140.0" cy="452.5" r="4.25"/><circle cx="1140.8" cy="439.2" r="4.25"/><circle cx="1142.0" cy="430.0" r="4.25"/><circle cx="1145.0" cy="426.7" r="4.25"/><circle cx="1147.1" cy="425.9" r="4.25"/><circle cx="1149.2" cy="425.0" r="4.25"/><circle cx="1151.3" cy="429.2" r="4.25"/><circle cx="1152.5" cy="438.3" r="4.25"/><circle cx="1154.2" cy="447.5" r="4.25"/><circle cx="1155.8" cy="460.8" r="4.25"/><circle cx="1157.0" cy="473.3" r="4.25"/><circle cx="1158.3" cy="479.2" r="4.25"/><circle cx="1161.7" cy="475.0" r="4.25"/><circle cx="1163.3" cy="483.3" r="4.25"/><circle cx="1164.2" cy="495.0" r="4.25"/><circle cx="1165.3" cy="522.5" r="4.25"/><circle cx="1167.5" cy="555.8" r="4.25"/><circle cx="1169.2" cy="530.0" r="4.25"/><circle cx="1171.3" cy="520.0" r="4.25"/><circle cx="1173.7" cy="519.2" r="4.25"/><circle cx="1175.6" cy="522.1" r="4.25"/><circle cx="1177.5" cy="525.0" r="4.25"/><circle cx="1179.7" cy="532.5" r="4.25"/><circle cx="1180.0" cy="566.7" r="4.25"/><circle cx="1181.3" cy="578.3" r="4.25"/><circle cx="1184.2" cy="583.3" r="4.25"/><circle cx="1187.5" cy="584.2" r="4.25"/><circle cx="1190.0" cy="583.0" r="4.25"/><circle cx="1192.5" cy="581.7" r="4.25"/><circle cx="1194.2" cy="573.3" r="4.25"/><circle cx="1195.0" cy="555.8" r="4.25"/><circle cx="1196.7" cy="546.7" r="4.25"/><circle cx="1198.3" cy="537.5" r="4.25"/><circle cx="1199.7" cy="526.7" r="4.25"/><circle cx="1200.8" cy="509.2" r="4.25"/><circle cx="1203.3" cy="502.5" r="4.25"/><circle cx="1205.8" cy="490.8" r="4.25"/><circle cx="1207.5" cy="470.8" r="4.25"/><circle cx="1209.2" cy="455.0" r="4.25"/><circle cx="1210.8" cy="438.3" r="4.25"/><circle cx="1212.5" cy="424.2" r="4.25"/><circle cx="1215.0" cy="413.3" r="4.25"/><circle cx="1217.5" cy="404.2" r="4.25"/><circle cx="1220.0" cy="398.0" r="4.25"/><circle cx="1222.0" cy="390.0" r="4.25"/><circle cx="1224.3" cy="388.0" r="4.25"/><circle cx="1226.7" cy="386.0" r="4.25"/><circle cx="1229.3" cy="396.7" r="4.25"/><circle cx="1231.5" cy="419.2" r="4.25"/><circle cx="1233.3" cy="396.7" r="4.25"/><circle cx="1236.3" cy="380.0" r="4.25"/><circle cx="1239.3" cy="392.7" r="4.25"/><circle cx="1241.8" cy="388.7" r="4.25"/><circle cx="1244.3" cy="384.7" r="4.25"/><circle cx="1246.0" cy="360.0" r="4.25"/><circle cx="1246.9" cy="345.0" r="4.25"/><circle cx="1248.7" cy="338.0" r="4.25"/><circle cx="1251.3" cy="337.6" r="4.25"/><circle cx="1253.2" cy="342.3" r="4.25"/><circle cx="1254.0" cy="354.3" r="4.25"/><circle cx="1255.3" cy="379.3" r="4.25"/><circle cx="1257.3" cy="391.3" r="4.25"/><circle cx="1259.7" cy="387.6" r="4.25"/><circle cx="1262.0" cy="384.0" r="4.25"/><circle cx="1263.5" cy="403.0" r="4.25"/><circle cx="1264.7" cy="420.0" r="4.25"/><circle cx="1266.7" cy="402.0" r="4.25"/><circle cx="1270.0" cy="388.0" r="4.25"/><circle cx="1273.3" cy="386.0" r="4.25"/><circle cx="1276.7" cy="390.7" r="4.25"/><circle cx="1280.0" cy="400.0" r="4.25"/><circle cx="1282.7" cy="408.7" r="4.25"/><circle cx="1284.2" cy="416.7" r="4.25"/><circle cx="1286.7" cy="430.0" r="4.25"/><circle cx="1287.5" cy="448.3" r="4.25"/><circle cx="1288.7" cy="464.2" r="4.25"/><circle cx="1290.3" cy="483.3" r="4.25"/><circle cx="1291.7" cy="493.3" r="4.25"/><circle cx="1293.8" cy="494.1" r="4.25"/><circle cx="1295.8" cy="495.0" r="4.25"/><circle cx="1296.7" cy="503.3" r="4.25"/><circle cx="1298.7" cy="509.2" r="4.25"/><circle cx="1300.0" cy="526.7" r="4.25"/><circle cx="1301.7" cy="537.5" r="4.25"/><circle cx="1304.2" cy="546.7" r="4.25"/><circle cx="1305.8" cy="556.7" r="4.25"/><circle cx="1306.7" cy="573.3" r="4.25"/><circle cx="1308.3" cy="581.7" r="4.25"/><circle cx="1311.3" cy="585.0" r="4.25"/><circle cx="1313.2" cy="583.8" r="4.25"/><circle cx="1315.0" cy="582.5" r="4.25"/><circle cx="1316.7" cy="573.3" r="4.25"/><circle cx="1317.5" cy="544.2" r="4.25"/><circle cx="1318.7" cy="529.2" r="4.25"/><circle cx="1320.8" cy="523.3" r="4.25"/><circle cx="1324.2" cy="519.2" r="4.25"/><circle cx="1327.5" cy="520.0" r="4.25"/><circle cx="1328.7" cy="541.7" r="4.25"/><circle cx="1331.2" cy="540.0" r="4.25"/><circle cx="1331.9" cy="513.3" r="4.25"/><circle cx="1333.7" cy="500.0" r="4.25"/><circle cx="1336.7" cy="508.3" r="4.25"/><circle cx="1339.2" cy="518.3" r="4.25"/><circle cx="1340.3" cy="525.0" r="4.25"/><circle cx="1341.7" cy="538.3" r="4.25"/><circle cx="1343.0" cy="551.7" r="4.25"/><circle cx="1345.0" cy="557.5" r="4.25"/><circle cx="1347.5" cy="559.1" r="4.25"/><circle cx="1350.0" cy="560.8" r="4.25"/><circle cx="1350.8" cy="569.2" r="4.25"/><circle cx="1352.5" cy="579.2" r="4.25"/><circle cx="1355.8" cy="591.7" r="4.25"/><circle cx="1356.5" cy="573.3" r="4.25"/><circle cx="1359.2" cy="566.7" r="4.25"/><circle cx="1361.2" cy="570.9" r="4.25"/><circle cx="1363.3" cy="575.0" r="4.25"/><circle cx="1365.5" cy="579.6" r="4.25"/><circle cx="1368.3" cy="575.0" r="4.25"/><circle cx="1371.7" cy="560.0" r="4.25"/><circle cx="1375.0" cy="564.2" r="4.25"/><circle cx="1375.8" cy="573.3" r="4.25"/><circle cx="1379.2" cy="577.5" r="4.25"/><circle cx="1380.3" cy="584.2" r="4.25"/><circle cx="1381.7" cy="598.3" r="4.25"/><circle cx="1383.3" cy="611.7" r="4.25"/><circle cx="1384.7" cy="625.0" r="4.25"/><circle cx="1385.8" cy="635.0" r="4.25"/><circle cx="1388.3" cy="640.0" r="4.25"/><circle cx="1390.3" cy="640.3" r="4.25"/><circle cx="1392.2" cy="640.5" r="4.25"/><circle cx="1394.2" cy="640.8" r="4.25"/><circle cx="1397.5" cy="638.3" r="4.25"/><circle cx="1399.4" cy="639.4" r="4.25"/><circle cx="1401.4" cy="640.6" r="4.25"/><circle cx="1403.3" cy="641.7" r="4.25"/><circle cx="1405.8" cy="642.7" r="4.25"/><circle cx="1408.3" cy="643.7" r="4.25"/><circle cx="1410.4" cy="643.1" r="4.25"/><circle cx="1412.5" cy="642.5" r="4.25"/><circle cx="1414.2" cy="638.3" r="4.25"/><circle cx="1415.0" cy="631.7" r="4.25"/><circle cx="1416.3" cy="620.8" r="4.25"/><circle cx="1418.3" cy="605.8" r="4.25"/><circle cx="1419.7" cy="580.8" r="4.25"/><circle cx="1420.8" cy="564.2" r="4.25"/><circle cx="1423.3" cy="560.5" r="4.25"/><circle cx="1425.8" cy="556.7" r="4.25"/><circle cx="1428.3" cy="549.2" r="4.25"/><circle cx="1430.0" cy="544.2" r="4.25"/><circle cx="1433.3" cy="545.8" r="4.25"/><circle cx="1435.8" cy="560.0" r="4.25"/><circle cx="1437.0" cy="574.2" r="4.25"/><circle cx="1438.7" cy="591.7" r="4.25"/><circle cx="1440.8" cy="601.7" r="4.25"/><circle cx="1443.3" cy="610.8" r="4.25"/><circle cx="1445.8" cy="620.8" r="4.25"/><circle cx="1447.9" cy="624.1" r="4.25"/><circle cx="1450.0" cy="627.5" r="4.25"/><circle cx="1451.7" cy="633.3" r="4.25"/><circle cx="1455.0" cy="635.8" r="4.25"/><circle cx="1456.3" cy="644.2" r="4.25"/><circle cx="1458.0" cy="658.3" r="4.25"/><circle cx="1459.5" cy="671.7" r="4.25"/><circle cx="1461.2" cy="685.8" r="4.25"/><circle cx="1462.7" cy="696.2" r="4.25"/><circle cx="1464.0" cy="706.0" r="4.25"/><circle cx="1465.3" cy="732.7" r="4.25"/><circle cx="1467.4" cy="743.3" r="4.25"/><circle cx="1469.3" cy="706.0" r="4.25"/><circle cx="1472.0" cy="704.7" r="4.25"/><circle cx="1474.2" cy="710.2" r="4.25"/><circle cx="1476.4" cy="715.8" r="4.25"/><circle cx="1477.3" cy="724.2" r="4.25"/><circle cx="1478.7" cy="733.6" r="4.25"/><circle cx="1480.4" cy="743.8" r="4.25"/><circle cx="1482.7" cy="758.0" r="4.25"/><circle cx="1484.0" cy="770.0" r="4.25"/><circle cx="1484.9" cy="787.8" r="4.25"/><circle cx="1486.2" cy="805.6" r="4.25"/><circle cx="1488.0" cy="808.8" r="4.25"/><circle cx="1489.8" cy="812.0" r="4.25"/><circle cx="1492.0" cy="808.8" r="4.25"/><circle cx="1494.2" cy="805.6" r="4.25"/><circle cx="1494.7" cy="783.3" r="4.25"/><circle cx="1496.3" cy="757.1" r="4.25"/><circle cx="1497.8" cy="738.0" r="4.25"/><circle cx="1498.7" cy="723.3" r="4.25"/><circle cx="1501.3" cy="718.4" r="4.25"/><circle cx="1503.1" cy="717.1" r="4.25"/><circle cx="1504.9" cy="715.8" r="4.25"/><circle cx="1506.7" cy="710.4" r="4.25"/><circle cx="1508.5" cy="719.8" r="4.25"/><circle cx="1510.2" cy="729.1" r="4.25"/><circle cx="1512.0" cy="726.5" r="4.25"/><circle cx="1513.8" cy="723.8" r="4.25"/><circle cx="1514.7" cy="715.8" r="4.25"/><circle cx="1516.4" cy="707.8" r="4.25"/><circle cx="1517.0" cy="695.0" r="4.25"/><circle cx="1518.3" cy="685.8" r="4.25"/><circle cx="1520.3" cy="675.0" r="4.25"/><circle cx="1521.7" cy="666.7" r="4.25"/><circle cx="1522.5" cy="657.5" r="4.25"/><circle cx="1525.8" cy="650.8" r="4.25"/><circle cx="1526.7" cy="648.3" r="4.25"/><circle cx="1528.0" cy="630.0" r="4.25"/><circle cx="1529.7" cy="614.2" r="4.25"/><circle cx="1531.3" cy="601.7" r="4.25"/><circle cx="1532.5" cy="591.7" r="4.25"/><circle cx="1534.2" cy="583.3" r="4.25"/><circle cx="1535.8" cy="575.0" r="4.25"/><circle cx="1537.5" cy="563.3" r="4.25"/><circle cx="1539.2" cy="547.5" r="4.25"/><circle cx="1540.8" cy="528.3" r="4.25"/><circle cx="1542.5" cy="516.7" r="4.25"/><circle cx="1544.2" cy="500.0" r="4.25"/><circle cx="1545.3" cy="490.0" r="4.25"/><circle cx="1547.7" cy="488.4" r="4.25"/><circle cx="1550.0" cy="486.7" r="4.25"/><circle cx="1551.7" cy="473.3" r="4.25"/><circle cx="1553.3" cy="457.5" r="4.25"/><circle cx="1555.3" cy="439.2" r="4.25"/><circle cx="1556.7" cy="425.8" r="4.25"/><circle cx="1558.3" cy="418.3" r="4.25"/><circle cx="1560.2" cy="415.4" r="4.25"/><circle cx="1562.0" cy="412.5" r="4.25"/><circle cx="1563.9" cy="409.1" r="4.25"/><circle cx="1565.8" cy="405.8" r="4.25"/><circle cx="1567.8" cy="407.5" r="4.25"/><circle cx="1569.7" cy="409.1" r="4.25"/><circle cx="1571.7" cy="410.8" r="4.25"/><circle cx="1573.8" cy="409.1" r="4.25"/><circle cx="1575.8" cy="407.5" r="4.25"/><circle cx="1579.2" cy="413.3" r="4.25"/><circle cx="1581.7" cy="416.6" r="4.25"/><circle cx="1584.2" cy="420.0" r="4.25"/><circle cx="1587.5" cy="410.0" r="4.25"/><circle cx="1589.6" cy="409.6" r="4.25"/><circle cx="1591.7" cy="409.2" r="4.25"/><circle cx="1595.0" cy="413.3" r="4.25"/><circle cx="1596.7" cy="420.0" r="4.25"/><circle cx="1598.3" cy="439.2" r="4.25"/><circle cx="1600.0" cy="452.5" r="4.25"/><circle cx="1601.7" cy="461.7" r="4.25"/><circle cx="1603.0" cy="477.5" r="4.25"/><circle cx="1604.2" cy="492.5" r="4.25"/><circle cx="1606.7" cy="491.6" r="4.25"/><circle cx="1609.2" cy="490.8" r="4.25"/><circle cx="1610.8" cy="497.5" r="4.25"/><circle cx="1613.3" cy="499.6" r="4.25"/><circle cx="1615.8" cy="501.7" r="4.25"/><circle cx="1617.5" cy="512.5" r="4.25"/><circle cx="1619.2" cy="523.3" r="4.25"/><circle cx="1621.7" cy="534.2" r="4.25"/><circle cx="1623.9" cy="542.8" r="4.25"/><circle cx="1625.4" cy="551.0" r="4.25"/><circle cx="1628.6" cy="556.8" r="4.25"/><circle cx="1630.1" cy="570.1" r="4.25"/><circle cx="1631.3" cy="581.7" r="4.25"/><circle cx="1632.8" cy="590.7" r="4.25"/><circle cx="1634.8" cy="596.1" r="4.25"/><circle cx="1637.1" cy="584.4" r="4.25"/><circle cx="1639.4" cy="578.6" r="4.25"/><circle cx="1641.8" cy="582.1" r="4.25"/><circle cx="1643.3" cy="589.9" r="4.25"/><circle cx="1644.1" cy="598.4" r="4.25"/><circle cx="1646.1" cy="607.8" r="4.25"/><circle cx="1649.2" cy="615.6" r="4.25"/><circle cx="1651.1" cy="607.0" r="4.25"/><circle cx="1651.9" cy="580.9" r="4.25"/><circle cx="1654.2" cy="572.4" r="4.25"/><circle cx="1656.6" cy="574.1" r="4.25"/><circle cx="1658.9" cy="575.9" r="4.25"/><circle cx="1661.2" cy="580.1" r="4.25"/><circle cx="1663.6" cy="584.4" r="4.25"/><circle cx="1665.9" cy="588.1" r="4.25"/><circle cx="1668.2" cy="591.8" r="4.25"/><circle cx="1669.8" cy="578.6" r="4.25"/><circle cx="1671.5" cy="585.0" r="4.25"/><circle cx="1673.3" cy="591.4" r="4.25"/><circle cx="1674.4" cy="578.2" r="4.25"/><circle cx="1676.2" cy="576.0" r="4.25"/><circle cx="1677.9" cy="573.9" r="4.25"/><circle cx="1679.7" cy="577.8" r="4.25"/><circle cx="1681.4" cy="581.7" r="4.25"/><circle cx="1682.6" cy="587.9" r="4.25"/><circle cx="1683.3" cy="603.9" r="4.25"/><circle cx="1684.6" cy="614.4" r="4.25"/><circle cx="1687.7" cy="610.9" r="4.25"/><circle cx="1689.2" cy="601.2" r="4.25"/><circle cx="1690.4" cy="582.9" r="4.25"/><circle cx="1692.3" cy="570.4" r="4.25"/><circle cx="1693.5" cy="553.3" r="4.25"/><circle cx="1696.6" cy="547.9" r="4.25"/><circle cx="1698.5" cy="548.6" r="4.25"/><circle cx="1700.5" cy="549.4" r="4.25"/><circle cx="1702.1" cy="561.9" r="4.25"/><circle cx="1703.2" cy="604.3" r="4.25"/><circle cx="1705.0" cy="610.9" r="4.25"/><circle cx="1706.7" cy="617.5" r="4.25"/></g>
</svg>
</body></html>
